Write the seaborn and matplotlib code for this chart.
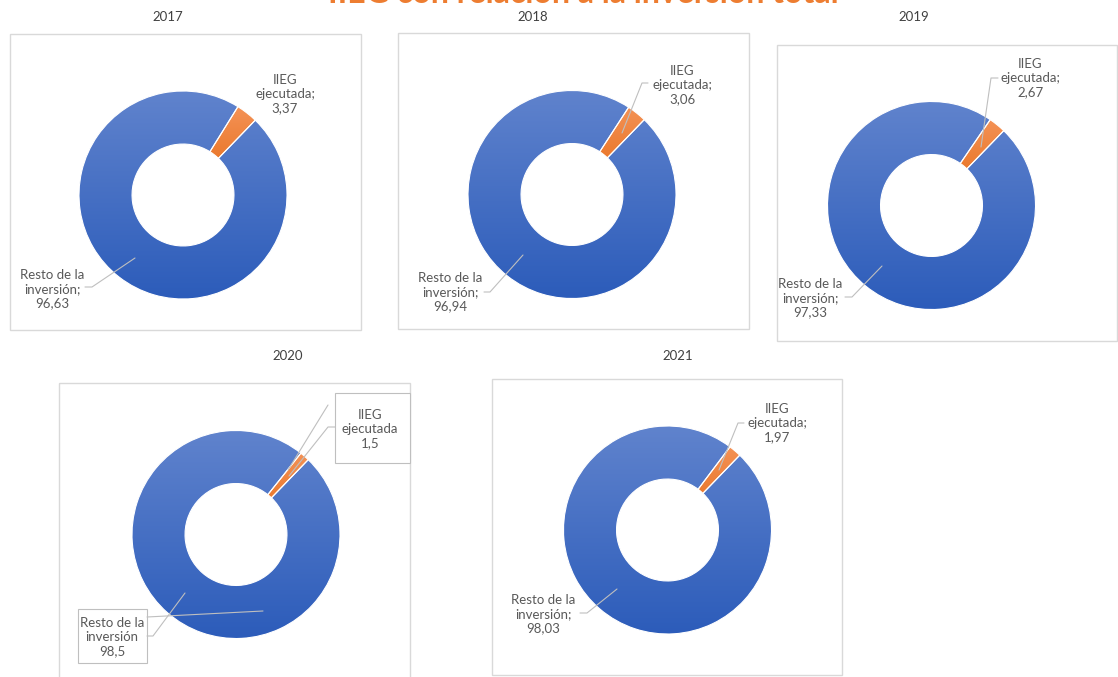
import numpy as np
import matplotlib
matplotlib.use("Agg")
import matplotlib.pyplot as plt
import seaborn as sns
from matplotlib.colors import LinearSegmentedColormap
from matplotlib.patches import Rectangle

# ---------------- data ----------------
years = ["2017", "2018", "2019", "2020", "2021"]
categories = ["Resto de la inversión", "IIEG ejecutada"]
resto = [96.63, 96.94, 97.33, 98.5, 98.03]
iieg = [3.37, 3.06, 2.67, 1.5, 1.97]
separators = [";", ";", ";", "", ";"]
title = "IIEG con relación a la inversión total"

# ---------------- style ----------------
sns.set_theme(style="white")
plt.rcParams["font.family"] = ["Lato", "DejaVu Sans"]

W, H = 1118, 677
fig = plt.figure(figsize=(W / 100, H / 100), dpi=100)
fig.patch.set_facecolor("white")

BLUE_TOP, BLUE_BOT = "#6083CD", "#2C5CBA"
OR_TOP, OR_BOT = "#F49256", "#E46812"
TEXT_C = "#595959"
LINE_C = "#BFBFBF"
BOX_C = "#D9D9D9"
R = 104  # donut outer radius in px

# panel layout (pixels, y downward)
layout = [
    dict(c=(183, 195), box=(10, 34, 361, 330), yt=(168, 17),
         li=(285, 94), lr=(52, 289),
         lines_i=[], lines_r=[[(135, 258), (92, 287), (85, 287)]], boxed=False),
    dict(c=(572, 194.5), box=(398, 33, 749, 329), yt=(533, 17),
         li=(682, 85), lr=(450, 292),
         lines_i=[[(622, 133), (642, 83), (648, 83)]],
         lines_r=[[(523, 255), (490, 292), (484, 292)]], boxed=False),
    dict(c=(931.5, 205.5), box=(777, 45, 1117, 341), yt=(914, 17),
         li=(1030, 78), lr=(810, 298),
         lines_i=[[(981, 147), (991, 78), (998, 78)]],
         lines_r=[[(882, 266), (852, 297), (845, 297)]], boxed=False),
    dict(c=(236, 534.5), box=(59, 383, 410, 690), yt=(288, 356),
         li=(370, 429), lr=(112, 637),
         lines_i=[[(288, 470), (328, 405)], [(289, 476), (328, 427), (335, 427)]],
         lines_r=[[(263, 611), (147, 617)], [(185, 593), (153, 636), (147, 636)]],
         boxed=True, bi=(335, 393, 410, 463), br=(78, 609, 147, 663)),
    dict(c=(667.5, 530), box=(492, 379, 842, 675), yt=(678, 356),
         li=(777, 423), lr=(543, 614),
         lines_i=[[(719, 470), (738, 423), (744, 423)]],
         lines_r=[[(617, 589), (587, 613), (580, 613)]], boxed=False),
]

# overlay axes in pixel coordinates
ov = fig.add_axes([0, 0, 1, 1], zorder=5)
ov.set_xlim(0, W)
ov.set_ylim(H, 0)
ov.axis("off")
ov.patch.set_alpha(0)

grad = np.linspace(0, 1, 256).reshape(-1, 1)
cmap_blue = LinearSegmentedColormap.from_list("b", [BLUE_TOP, BLUE_BOT])
cmap_or = LinearSegmentedColormap.from_list("o", [OR_TOP, OR_BOT])


def fmt(v):
    return str(v).replace(".", ",")


for i, year in enumerate(years):
    L = layout[i]
    cx, cy = L["c"]
    # panel box
    x0, y0, x1, y1 = L["box"]
    ov.add_patch(Rectangle((x0, y0), x1 - x0, y1 - y0, fill=False,
                           edgecolor=BOX_C, lw=1.0))
    ov.text(L["yt"][0], L["yt"][1], year, ha="center", va="center",
            fontsize=9.5, color="#404040")

    # donut axes
    ax = fig.add_axes([(cx - R) / W, (H - cy - R) / H, 2 * R / W, 2 * R / H], zorder=2)
    vals = [resto[i], iieg[i]]
    wedges, _ = ax.pie(vals, startangle=90 - 44, counterclock=False, radius=1,
                       colors=[BLUE_BOT, OR_BOT],
                       wedgeprops=dict(width=0.51, edgecolor="white", linewidth=0.8))
    ax.axis("off")
    for k, (w, cm) in enumerate(zip(wedges, [cmap_blue, cmap_or])):
        if k == 0:
            ext = [-1, 1, -1, 1]
        else:
            v = w.get_path().vertices
            ext = [v[:, 0].min(), v[:, 0].max(), v[:, 1].min(), v[:, 1].max()]
        im = ax.imshow(grad, extent=ext, cmap=cm, aspect="auto",
                       origin="upper", zorder=1)
        im.set_clip_path(w)
        w.set_facecolor("none")
        w.set_zorder(3)
    ax.set_xlim(-1, 1)
    ax.set_ylim(-1, 1)

    # leader lines
    for seg in L["lines_i"] + L["lines_r"]:
        xs, ys = zip(*seg)
        ov.plot(xs, ys, color=LINE_C, lw=0.8)

    sep = separators[i]
    txt_i = f"IIEG\nejecutada{sep}\n{fmt(iieg[i])}"
    txt_r = f"Resto de la\ninversión{sep}\n{fmt(resto[i])}"
    if L["boxed"]:
        for b in (L["bi"], L["br"]):
            ov.add_patch(Rectangle((b[0], b[1]), b[2] - b[0], b[3] - b[1],
                                   facecolor="white", edgecolor=LINE_C, lw=0.8))
    ov.text(L["li"][0], L["li"][1], txt_i, ha="center", va="center",
            fontsize=9.5, color=TEXT_C, linespacing=1.2)
    ov.text(L["lr"][0], L["lr"][1], txt_r, ha="center", va="center",
            fontsize=9.5, color=TEXT_C, linespacing=1.2)

# title (clipped at the top edge, as in the reference)
fig.text(583 / W, 1 - 3 / H, title, ha="center", va="baseline",
         fontsize=23, fontweight="bold", color="#ED7D31")

fig.savefig("out.png", dpi=100, facecolor="white")
